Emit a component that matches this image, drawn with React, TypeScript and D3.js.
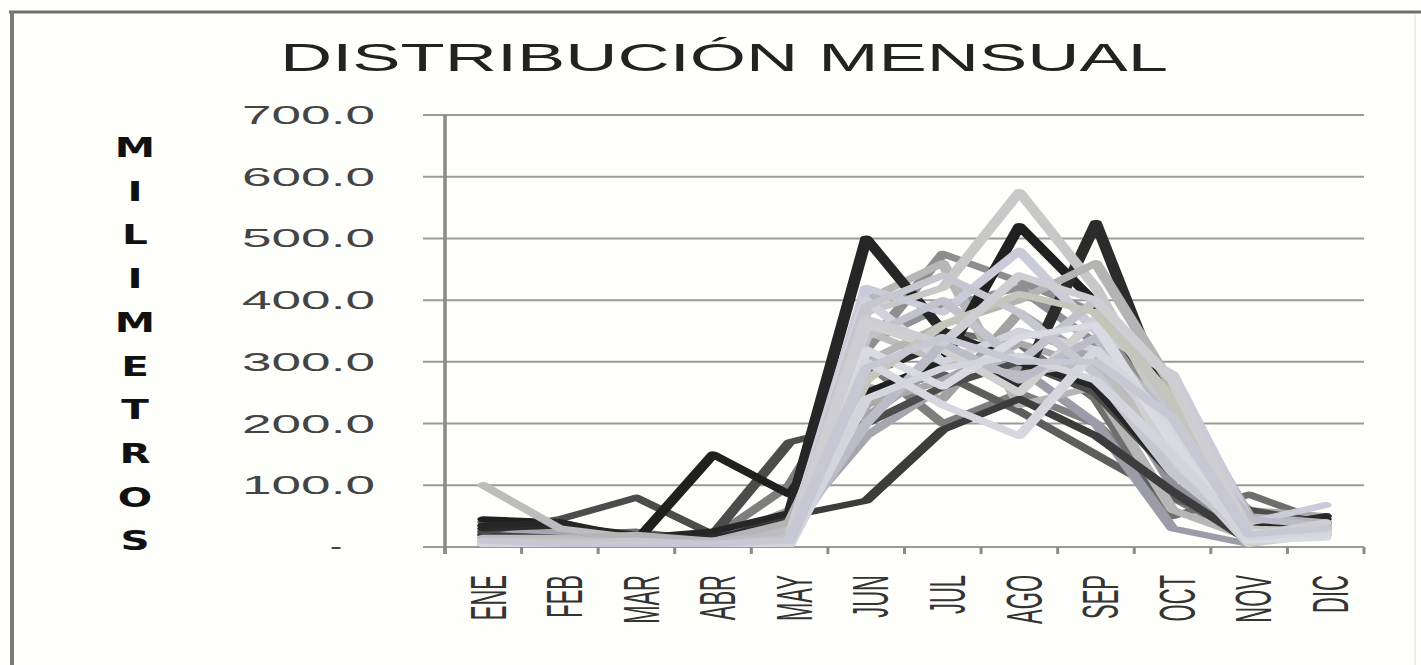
import { useEffect, useRef } from "react";
import * as d3 from "d3";

const CHART_TITLE = "DISTRIBUCIÓN MENSUAL";
const AXIS_TITLE = "MILIMETROS";
const MONTHS = ["ENE", "FEB", "MAR", "ABR", "MAY", "JUN", "JUL", "AGO", "SEP", "OCT", "NOV", "DIC"];
const TICK_VALUES = [0, 100, 200, 300, 400, 500, 600, 700];

// one array per year / station, values in mm, ENE..DIC
const SERIE_01 = [30, 25, 15, 10, 60, 260, 240, 380, 300, 100, 20, 25];
const SERIE_02 = [25, 30, 20, 15, 100, 300, 200, 250, 200, 80, 15, 20];
const SERIE_03 = [35, 20, 25, 10, 45, 280, 350, 330, 240, 50, 85, 40];
const SERIE_04 = [40, 30, 15, 5, 30, 250, 280, 220, 150, 80, 35, 50];
const SERIE_05 = [20, 20, 10, 10, 40, 210, 300, 290, 200, 30, 5, 35];
const SERIE_06 = [25, 15, 10, 5, 20, 330, 390, 420, 330, 100, 10, 20];
const SERIE_07 = [15, 20, 10, 5, 30, 320, 475, 430, 380, 180, 40, 35];
const SERIE_08 = [20, 20, 10, 5, 25, 230, 270, 330, 290, 160, 60, 50];
const SERIE_09 = [20, 25, 5, 5, 35, 180, 260, 350, 310, 190, 40, 30];
const SERIE_10 = [15, 10, 10, 5, 25, 400, 460, 230, 260, 60, 15, 30];
const SERIE_11 = [20, 15, 10, 10, 50, 75, 190, 240, 180, 90, 10, 30];
const SERIE_12 = [25, 45, 80, 20, 170, 200, 260, 300, 250, 120, 60, 40];
const SERIE_13 = [45, 40, 10, 150, 85, 250, 300, 520, 395, 220, 30, 40];
const SERIE_14 = [30, 35, 20, 15, 40, 280, 330, 260, 525, 210, 30, 50];
const SERIE_15 = [35, 40, 15, 25, 55, 500, 350, 300, 260, 120, 30, 45];
const SERIE_16 = [100, 30, 15, 10, 30, 350, 300, 280, 300, 150, 20, 30];
const SERIE_17 = [10, 10, 5, 5, 20, 380, 420, 575, 420, 200, 30, 25];
const SERIE_18 = [10, 15, 20, 10, 40, 300, 360, 400, 460, 260, 50, 40];
const SERIE_19 = [5, 5, 5, 5, 10, 420, 380, 480, 350, 280, 40, 68];
const SERIE_20 = [5, 10, 5, 5, 15, 400, 300, 350, 320, 180, 30, 20];
const SERIE_21 = [10, 10, 10, 5, 5, 340, 400, 300, 400, 230, 10, 30];
const SERIE_22 = [5, 5, 5, 5, 5, 360, 320, 250, 370, 140, 5, 20];
const SERIE_23 = [15, 15, 5, 10, 20, 200, 330, 270, 340, 200, 45, 35];
const SERIE_24 = [5, 5, 10, 5, 10, 390, 440, 380, 280, 120, 20, 25];
const SERIE_25 = [5, 5, 5, 5, 5, 320, 260, 340, 360, 170, 10, 15];
const SERIE_26 = [10, 10, 5, 5, 15, 270, 360, 410, 380, 240, 30, 25];
const SERIE_27 = [5, 5, 5, 5, 5, 300, 230, 180, 320, 200, 25, 20];
const SERIE_28 = [10, 5, 5, 5, 10, 370, 330, 440, 400, 270, 20, 40];
const SERIE_29 = [5, 5, 5, 5, 5, 240, 290, 310, 270, 150, 15, 25];
const SERIE_30 = [10, 5, 5, 5, 10, 290, 340, 300, 300, 210, 20, 30];

const SERIES = [
  SERIE_01, SERIE_02, SERIE_03, SERIE_04, SERIE_05, SERIE_06, SERIE_07,
  SERIE_08, SERIE_09, SERIE_10, SERIE_11, SERIE_12, SERIE_13, SERIE_14,
  SERIE_15, SERIE_16, SERIE_17, SERIE_18, SERIE_19, SERIE_20, SERIE_21,
  SERIE_22, SERIE_23, SERIE_24, SERIE_25, SERIE_26, SERIE_27, SERIE_28,
  SERIE_29, SERIE_30,
];

const PALETTE = [
  "#a2a2a2", "#7e7e7e", "#6e6e6e", "#5e5e5e", "#9c9ca8", "#909098", "#8e8e8e",
  "#aaaaaa", "#a6a6ae", "#b6b6b6", "#3c3c3c", "#4c4c4c", "#202020", "#2b2b2b",
  "#262626", "#bdbdbd", "#c8c8c8", "#b4b4b4", "#cacad8", "#d2d2dc", "#c2c2cc",
  "#d0d0d0", "#bcbcc8", "#c6c6ce", "#dadae2", "#c4c6bc", "#d6d6de", "#cdcdd2",
  "#d4d4dc", "#c8c8d4",
];

export default function App() {
  const svgRef = useRef<SVGSVGElement | null>(null);

  useEffect(() => {
    if (!svgRef.current) return;
    const width = 1421;
    const height = 665;
    const plot = { left: 445, right: 1364, top: 115, bottom: 547 };
    const stretch = 2; // the source picture is stretched horizontally

    const svg = d3.select(svgRef.current);
    svg.selectAll("*").remove();
    svg.attr("width", width).attr("height", height);

    svg.append("rect").attr("width", width).attr("height", height).attr("fill", "#fefefb");

    // frame
    svg.append("line").attr("x1", 9).attr("x2", width).attr("y1", 12).attr("y2", 12)
      .attr("stroke", "#6e6e6e").attr("stroke-width", 3);
    svg.append("line").attr("x1", 12).attr("x2", 12).attr("y1", 11).attr("y2", height)
      .attr("stroke", "#7a7a7a").attr("stroke-width", 4);
    svg.append("line").attr("x1", 1415).attr("x2", 1415).attr("y1", 14).attr("y2", height)
      .attr("stroke", "#ededed").attr("stroke-width", 2);

    const x = d3.scaleBand<string>().domain(MONTHS).range([plot.left, plot.right]);
    const y = d3.scaleLinear().domain([0, 700]).range([plot.bottom, plot.top]);

    // grid
    svg.append("g")
      .selectAll("line")
      .data(TICK_VALUES)
      .join("line")
      .attr("x1", plot.left - 22)
      .attr("x2", plot.right)
      .attr("y1", (t) => y(t))
      .attr("y2", (t) => y(t))
      .attr("stroke", "#9a9a9a")
      .attr("stroke-width", 2);

    // y axis line
    svg.append("line")
      .attr("x1", plot.left).attr("x2", plot.left)
      .attr("y1", plot.top).attr("y2", plot.bottom + 7)
      .attr("stroke", "#8a8a8a").attr("stroke-width", 3.5);

    // x ticks on band edges
    const edges = MONTHS.map((m) => x(m) as number).concat(plot.right);
    svg.append("g")
      .selectAll("line")
      .data(edges)
      .join("line")
      .attr("x1", (d) => d)
      .attr("x2", (d) => d)
      .attr("y1", plot.bottom)
      .attr("y2", plot.bottom + 7)
      .attr("stroke", "#8a8a8a")
      .attr("stroke-width", 3);

    // y tick labels
    svg.append("g")
      .selectAll("text")
      .data(TICK_VALUES)
      .join("text")
      .attr("x", (t) => (t === 0 ? 342 : 375))
      .attr("y", (t) => (t === 0 ? y(t) + 8 : y(t) + 9))
      .attr("text-anchor", "end")
      .attr("font-family", "'Liberation Sans', Arial, sans-serif")
      .attr("font-size", 25)
      .attr("fill", "#444")
      .attr("textLength", (t) => (t === 0 ? 12 : 133))
      .attr("lengthAdjust", "spacingAndGlyphs")
      .text((t) => (t === 0 ? "-" : d3.format(".1f")(t)));

    // month labels, rotated
    svg.append("g")
      .selectAll("text")
      .data(MONTHS)
      .join("text")
      .attr("transform", (m) => `translate(${(x(m) as number) + x.bandwidth() / 2 + 4},575) scale(2.3,1) rotate(-90)`)
      .attr("text-anchor", "end")
      .attr("dy", "0.36em")
      .attr("font-family", "'Liberation Sans', Arial, sans-serif")
      .attr("font-size", 22)
      .attr("fill", "#333")
      .text((m) => m);

    // vertical axis title, one letter per row
    svg.append("g")
      .selectAll("text")
      .data(AXIS_TITLE.split(""))
      .join("text")
      .attr("transform", (_, i) => `translate(135,${157 + i * 43.7}) scale(1.5,1)`)
      .attr("text-anchor", "middle")
      .attr("font-family", "'DejaVu Sans', sans-serif")
      .attr("font-weight", "bold")
      .attr("font-size", 27)
      .attr("fill", "#111")
      .text((c) => c);

    // chart title
    svg.append("text")
      .attr("x", 280)
      .attr("y", 71)
      .attr("font-family", "'Liberation Sans', Arial, sans-serif")
      .attr("font-size", 38)
      .attr("fill", "#222")
      .attr("textLength", 888)
      .attr("lengthAdjust", "spacingAndGlyphs")
      .text(CHART_TITLE);

    // series, drawn in a horizontally stretched layer like the source
    const xs = d3.scaleBand<string>().domain(MONTHS).range([plot.left / stretch, plot.right / stretch]);
    const line = d3
      .line<number>()
      .x((_, i) => (xs(MONTHS[i]) as number) + xs.bandwidth() / 2)
      .y((v) => y(v));

    svg.append("g")
      .attr("transform", `scale(${stretch},1)`)
      .selectAll("path")
      .data(SERIES)
      .join("path")
      .attr("d", (s) => line(s))
      .attr("fill", "none")
      .attr("stroke", (_, i) => PALETTE[i % PALETTE.length])
      .attr("stroke-width", 6)
      .attr("stroke-linejoin", "round")
      .attr("stroke-linecap", "round");
  }, []);

  return (
    <div style={{ position: "absolute", left: 0, top: 0 }}>
      <svg ref={svgRef} style={{ display: "block" }} />
    </div>
  );
}
